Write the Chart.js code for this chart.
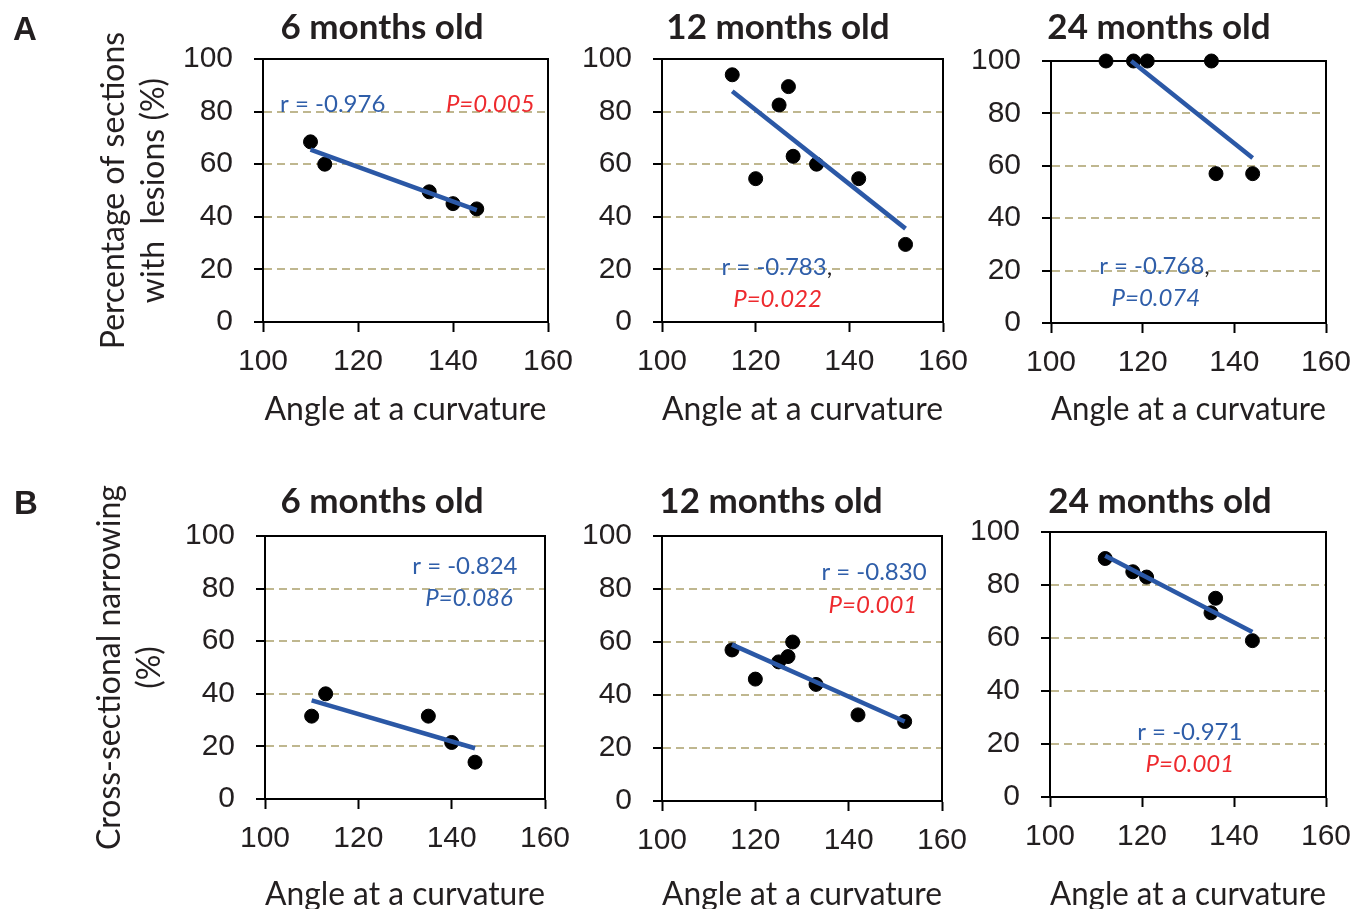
<!DOCTYPE html>
<html>
<head>
<meta charset="utf-8">
<script src="https://cdn.jsdelivr.net/npm/chart.js@4.4.0/dist/chart.umd.min.js"></script>
<style>
html,body{margin:0;padding:0;background:#ffffff;}
#wrap{position:relative;width:1354px;height:909px;overflow:hidden;background:#ffffff;}
#wrap canvas{position:absolute;left:0;top:0;}
</style>
</head>
<body>
<div id="wrap"></div>
<script>
// ---------- data ----------
const angle6  = [110, 113, 135, 140, 145];
const angle12 = [115, 120, 125, 127, 128, 133, 142, 152];
const angle24 = [112, 118, 121, 135, 136, 144];

const lesion6  = [68.5, 60, 49.5, 45, 43];
const lesion12 = [94, 54.5, 82.5, 89.5, 63, 60, 54.5, 29.5];
const lesion24 = [100, 100, 100, 100, 57, 57];

const narrow6  = [31.5, 40, 31.5, 21.5, 14];
const narrow12 = [57, 46, 52.5, 54.5, 60, 44, 32.5, 30];
const narrow24 = [90, 85, 83, 69.5, 75, 59];

// regression-line end points as drawn in the picture
const fitLesion6X  = [110, 145];   const fitLesion6Y  = [65.5, 42.5];
const fitLesion12X = [115, 152];   const fitLesion12Y = [87.7, 35.5];
const fitLesion24X = [117.5, 144]; const fitLesion24Y = [100, 63];
const fitNarrow6X  = [110, 145];   const fitNarrow6Y  = [37.5, 19.3];
const fitNarrow12X = [115, 152];   const fitNarrow12Y = [59, 30];
const fitNarrow24X = [112, 144];   const fitNarrow24Y = [91, 62.3];

const xTickValues = [100, 120, 140, 160];
const yTickValues = [0, 20, 40, 60, 80, 100];

const panelTitles = ['6 months old', '12 months old', '24 months old'];
const xAxisTitle = 'Angle at a curvature';
const yAxisTitleA = ['Percentage of sections', 'with  lesions (%)'];
const yAxisTitleB = ['Cross-sectional narrowing', '(%)'];
const statsText = {
  A6:  ['r = -0.976', 'P=0.005'],
  A12: ['r = -0.783', 'P=0.022'],
  A24: ['r = -0.768', 'P=0.074'],
  B6:  ['r = -0.824', 'P=0.086'],
  B12: ['r = -0.830', 'P=0.001'],
  B24: ['r = -0.971', 'P=0.001']
};

// ---------- styles ----------
const W = 1420, H = 960;
const INK = '#231f20';
const BLUE_TXT = '#2f5ea9';
const RED_TXT = '#ee2a2e';
const LINE_BLUE = '#2b58a6';
const GRID = '#bfb78f';
const TICK_FONT = {family: "'Liberation Sans', Arial, sans-serif", size: 30};
const LABEL_FAMILY = "Lato, 'Open Sans', sans-serif";
const XT_SIZE = 32, XT_LH = 1.2;

const panels = [
  {key:'A6', area:[263,59,548,322], title:panelTitles[0], titleAt:[382,28], letter:['A',25,31],
   x:angle6, y:lesion6, fx:fitLesion6X, fy:fitLesion6Y, yTitle:yAxisTitleA, yTitlePad:4, xTitleY:410,
   notes:[{x:103.6,y:82.9,align:'left',parts:[{i:0,c:BLUE_TXT}]},{x:138.5,y:82.9,align:'left',parts:[{i:1,c:RED_TXT,it:true}]}]},
  {key:'A12', area:[662,59,943,322], title:panelTitles[1], titleAt:[778,28],
   x:angle12, y:lesion12, fx:fitLesion12X, fy:fitLesion12Y, xTitleY:410,
   notes:[{x:112.7,y:20.9,align:'left',parts:[{i:0,c:BLUE_TXT},{t:',',c:INK}]},{x:115.2,y:8.7,align:'left',parts:[{i:1,c:RED_TXT,it:true}]}]},
  {key:'A24', area:[1051,61,1326,323], title:panelTitles[2], titleAt:[1159,28],
   x:angle24, y:lesion24, fx:fitLesion24X, fy:fitLesion24Y, xTitleY:410,
   notes:[{x:110.5,y:21.5,align:'left',parts:[{i:0,c:BLUE_TXT},{t:',',c:INK}]},{x:113.2,y:9.4,align:'left',parts:[{i:1,c:BLUE_TXT,it:true}]}]},
  {key:'B6', area:[265,536,545,799], title:panelTitles[0], titleAt:[382,502], letter:['B',26,505],
   x:angle6, y:narrow6, fx:fitNarrow6X, fy:fitNarrow6Y, yTitle:yAxisTitleB, yTitlePad:0, xTitleY:895,
   notes:[{x:154.1,y:88.6,align:'right',parts:[{i:0,c:BLUE_TXT}]},{x:153.1,y:76.3,align:'right',parts:[{i:1,c:BLUE_TXT,it:true}]}]},
  {key:'B12', area:[662,536,942,801], title:panelTitles[1], titleAt:[771,502],
   x:angle12, y:narrow12, fx:fitNarrow12X, fy:fitNarrow12Y, xTitleY:895,
   notes:[{x:156.7,y:86.2,align:'right',parts:[{i:0,c:BLUE_TXT}]},{x:154.7,y:73.7,align:'right',parts:[{i:1,c:RED_TXT,it:true}]}]},
  {key:'B24', area:[1050,532,1326,797], title:panelTitles[2], titleAt:[1160,502],
   x:angle24, y:narrow24, fx:fitNarrow24X, fy:fitNarrow24Y, xTitleY:895,
   notes:[{x:130.4,y:24.6,align:'center',parts:[{i:0,c:BLUE_TXT}]},{x:130.4,y:12.4,align:'center',parts:[{i:1,c:RED_TXT,it:true}]}]}
];

function decor(p){
  return {
    id: 'decor' + p.key,
    beforeDatasetsDraw(chart){
      const {ctx, chartArea:a} = chart;
      ctx.save();
      ctx.strokeStyle = '#000'; ctx.lineWidth = 2;
      ctx.beginPath();
      ctx.moveTo(a.left, a.top); ctx.lineTo(a.right, a.top); ctx.lineTo(a.right, a.bottom);
      ctx.stroke();
      ctx.restore();
    },
    afterDatasetsDraw(chart){
      const {ctx} = chart;
      const xs = chart.scales.x, ys = chart.scales.y;
      ctx.save();
      ctx.textBaseline = 'middle';
      p.notes.forEach(n => {
        const parts = n.parts.map(pt => ({text: pt.t !== undefined ? pt.t : statsText[p.key][pt.i], color: pt.c,
          font: (pt.it ? 'italic ' : '') + '24px ' + LABEL_FAMILY}));
        let total = 0;
        parts.forEach(pt => { ctx.font = pt.font; pt.w = ctx.measureText(pt.text).width; total += pt.w; });
        let x = xs.getPixelForValue(n.x);
        const y = ys.getPixelForValue(n.y);
        if (n.align === 'right') x -= total; else if (n.align === 'center') x -= total/2;
        ctx.textAlign = 'left';
        parts.forEach(pt => { ctx.font = pt.font; ctx.fillStyle = pt.color; ctx.fillText(pt.text, x, y); x += pt.w; });
      });
      ctx.restore();
    },
    afterDraw(chart){
      const {ctx} = chart;
      ctx.save();
      ctx.textAlign = 'center'; ctx.textBaseline = 'middle'; ctx.fillStyle = INK;
      ctx.font = 'bold 35px ' + LABEL_FAMILY;
      ctx.fillText(p.title, p.titleAt[0], p.titleAt[1]);
      if (p.letter){
        ctx.font = "bold 33px 'Liberation Sans', Arial, sans-serif";
        ctx.fillText(p.letter[0], p.letter[1], p.letter[2]);
      }
      ctx.restore();
    }
  };
}

const wrap = document.getElementById('wrap');
panels.forEach(p => {
  const c = document.createElement('canvas');
  c.width = W; c.height = H;
  c.style.width = W + 'px'; c.style.height = H + 'px';
  wrap.appendChild(c);
  const [L,T,R,B] = p.area;
  const yW = p.yTitle ? L - 90 : 90;
  const xH = p.xTitleY + XT_SIZE*XT_LH/2 - B;
  new Chart(c, {
    type: 'scatter',
    data: {datasets: [
      {type:'line', data: p.fx.map((v,i)=>({x:v, y:p.fy[i]})), borderColor: LINE_BLUE, borderWidth: 4.5,
       pointRadius: 0, pointHoverRadius: 0, fill: false, order: 0, clip: false, borderCapStyle: 'butt', tension: 0},
      {data: p.x.map((v,i)=>({x:v, y:p.y[i]})), backgroundColor:'#000', borderColor:'#000', borderWidth: 1,
       pointRadius: 7, pointHoverRadius: 7, order: 1, clip: false}
    ]},
    options: {
      responsive: false, animation: false, devicePixelRatio: 1, events: [],
      layout: {padding: {left: L - yW, top: T, right: W - R, bottom: H - B - xH}},
      plugins: {legend:{display:false}, tooltip:{enabled:false}, title:{display:false}},
      scales: {
        x: {
          type:'linear', min: xTickValues[0], max: xTickValues[xTickValues.length-1],
          afterBuildTicks: s => { s.ticks = xTickValues.map(v => ({value: v})); },
          ticks: {font: TICK_FONT, color: INK, padding: 12, maxRotation: 0, autoSkip: false},
          grid: {drawOnChartArea: false, tickLength: 10, tickColor: '#000', tickWidth: 2},
          border: {display: true, color: '#000', width: 2},
          title: {display: true, text: xAxisTitle, color: INK, padding: 0,
                  font: {family: LABEL_FAMILY, size: XT_SIZE, lineHeight: XT_LH}},
          afterFit: s => { s.height = xH; }
        },
        y: {
          type:'linear', min: yTickValues[0], max: yTickValues[yTickValues.length-1],
          afterBuildTicks: s => { s.ticks = yTickValues.map(v => ({value: v})); },
          ticks: {font: TICK_FONT, color: INK, padding: 21},
          grid: {
            color: ctx => (ctx.tick && (ctx.tick.value === 0 || ctx.tick.value === 100)) ? 'rgba(0,0,0,0)' : GRID,
            lineWidth: 2, tickLength: 9, tickColor: '#000', tickWidth: 2
          },
          border: {display: true, color: '#000', width: 2, dash: [8, 5]},
          title: p.yTitle ? {display: true, text: p.yTitle, color: INK, padding: {top: p.yTitlePad, bottom: 0},
                  font: {family: LABEL_FAMILY, size: 32, lineHeight: 40/32}} : {display: false},
          afterFit: s => { s.width = yW; }
        }
      }
    },
    plugins: [decor(p)]
  });
});
</script>
</body>
</html>
